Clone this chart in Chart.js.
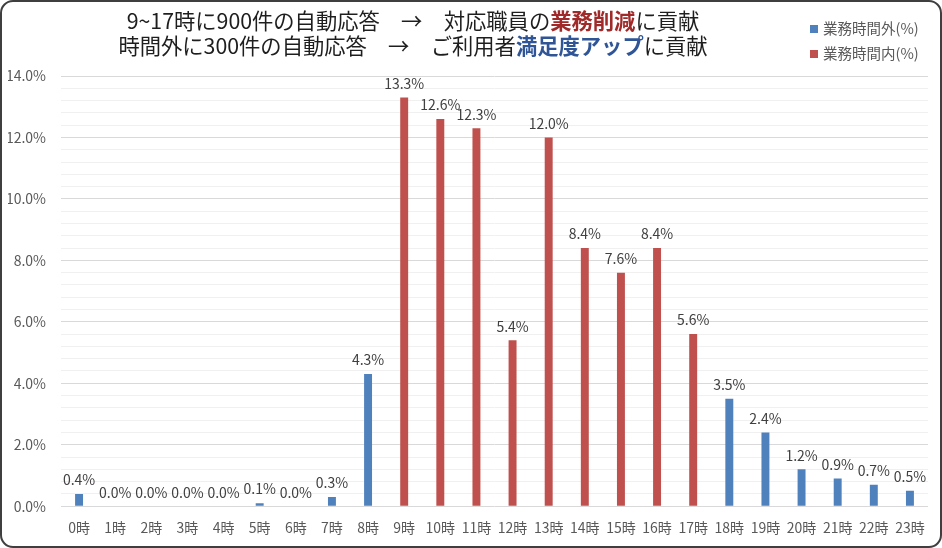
<!DOCTYPE html>
<html lang="ja">
<head>
<meta charset="utf-8">
<title>時間帯別 自動応答件数</title>
<script src="https://cdn.jsdelivr.net/npm/chart.js@4.4.1/dist/chart.umd.min.js"></script>
<style>
  html, body { margin: 0; padding: 0; background: #fff; }
  #wrap { position: relative; width: 942px; height: 548px; overflow: hidden; }
  #chart { position: absolute; left: 0; top: 0; }
  #frame {
    position: absolute; left: 0; top: 0; width: 942px; height: 548px;
    box-sizing: border-box; border: 2px solid #3f3f3f; border-radius: 13px;
    pointer-events: none;
  }
  #title {
    position: absolute; left: 0; top: 7px; width: 826px;
    text-align: center; font-family: 'Noto Sans CJK JP', sans-serif;
    font-size: 21.3px; line-height: 25px; color: #1e1e1e; white-space: pre;
  }
  #title .red { color: #a02a2a; font-weight: bold; }
  #title .blue { color: #2f5597; font-weight: bold; }
  #legend {
    position: absolute; left: 810px; top: 15px;
    font-family: 'Noto Sans CJK JP', sans-serif; font-size: 14.5px; color: #595959;
  }
  #legend div { height: 25px; line-height: 25px; white-space: nowrap; }
  #legend span.box { display: inline-block; width: 8px; height: 8px; margin-right: 5px; vertical-align: 1px; }
</style>
</head>
<body>
<div id="wrap">
  <canvas id="chart" width="942" height="548"></canvas>
  <div id="title">9~17時に900件の自動応答　→　対応職員の<span class="red">業務削減</span>に貢献
時間外に300件の自動応答　→　ご利用者<span class="blue">満足度アップ</span>に貢献</div>
  <div id="legend"></div>
  <div id="frame"></div>
</div>
<script>
// hours of the day
const hours = ['0時', '1時', '2時', '3時', '4時', '5時', '6時', '7時', '8時', '9時', '10時', '11時',
               '12時', '13時', '14時', '15時', '16時', '17時', '18時', '19時', '20時', '21時', '22時', '23時'];

// share of auto-replies (%) outside / inside office hours
const outsideHours = [0.4, 0.0, 0.0, 0.0, 0.0, 0.1, 0.0, 0.3, 4.3, null, null, null,
                      null, null, null, null, null, null, 3.5, 2.4, 1.2, 0.9, 0.7, 0.5];
const insideHours = [null, null, null, null, null, null, null, null, null, 13.3, 12.6, 12.3,
                     5.4, 12.0, 8.4, 7.6, 8.4, 5.6, null, null, null, null, null, null];

const seriesNames = ['業務時間外(%)', '業務時間内(%)'];
const seriesColors = ['#4f81bd', '#c0504d'];

Chart.defaults.font.family = "'Noto Sans CJK JP', 'Noto Sans', sans-serif";

// value labels above each bar
const barLabels = {
    id: 'barLabels',
    afterDatasetsDraw(chart) {
        const { ctx } = chart;
        ctx.save();
        ctx.font = "14px 'Noto Sans CJK JP', sans-serif";
        ctx.fillStyle = '#404040';
        ctx.textAlign = 'center';
        ctx.textBaseline = 'bottom';
        chart.data.datasets.forEach((ds, i) => {
            chart.getDatasetMeta(i).data.forEach((bar, j) => {
                const v = ds.data[j];
                if (v === null || v === undefined) return;
                ctx.fillText(v.toFixed(1) + '%', bar.x, bar.y - 7);
            });
        });
        ctx.restore();
    }
};

const isMajor = v => Math.abs(v / 2 - Math.round(v / 2)) < 1e-6;

const chart = new Chart(document.getElementById('chart'), {
    type: 'bar',
    plugins: [barLabels],
    data: {
        labels: hours,
        datasets: [
            { label: seriesNames[0], data: outsideHours, backgroundColor: seriesColors[0] },
            { label: seriesNames[1], data: insideHours, backgroundColor: seriesColors[1] }
        ]
    },
    options: {
        responsive: false,
        animation: false,
        layout: { padding: { top: 76, left: 8, right: 14, bottom: 7 } },
        datasets: {
            bar: { grouped: false, barPercentage: 0.22, categoryPercentage: 1 }
        },
        plugins: {
            legend: { display: false },
            title: { display: false },
            tooltip: { enabled: false }
        },
        scales: {
            x: {
                grid: { display: false },
                border: { display: false },
                ticks: { color: '#595959', font: { size: 14 }, maxRotation: 0, autoSkip: false, padding: 5 }
            },
            y: {
                min: 0,
                max: 14,
                border: { display: false },
                afterFit: scale => { scale.width = 53; },
                grid: {
                    color: ctx => isMajor(ctx.tick.value) ? '#d9d9d9' : '#f0f0f0',
                    drawTicks: false
                },
                ticks: {
                    stepSize: 0.4,
                    autoSkip: false,
                    padding: 15,
                    color: '#595959',
                    font: { size: 14 },
                    callback: v => isMajor(v) ? v.toFixed(1) + '%' : ''
                }
            }
        }
    }
});

// legend built from the datasets
const legend = document.getElementById('legend');
chart.data.datasets.forEach(ds => {
    const row = document.createElement('div');
    const box = document.createElement('span');
    box.className = 'box';
    box.style.background = ds.backgroundColor;
    row.appendChild(box);
    row.appendChild(document.createTextNode(ds.label));
    legend.appendChild(row);
});
</script>
</body>
</html>
